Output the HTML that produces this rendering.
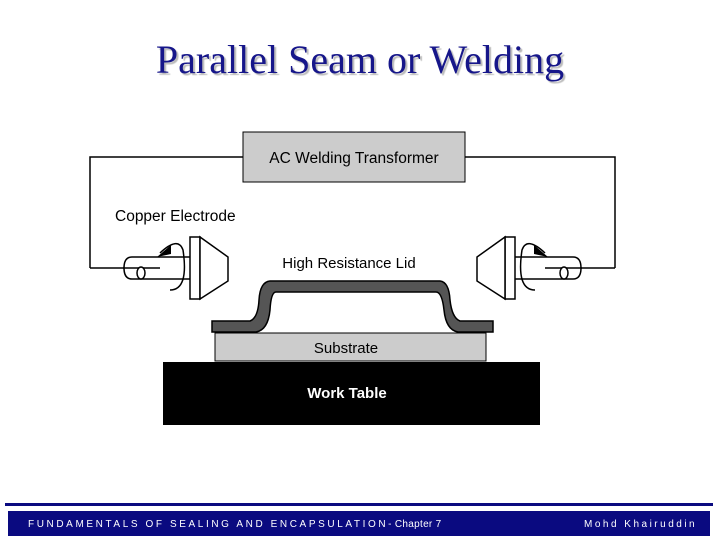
<!DOCTYPE html>
<html><head><style>
body{margin:0;width:720px;height:540px;background:#fff;overflow:hidden;position:relative;font-family:"Liberation Sans",sans-serif}
.t{position:absolute;top:36px;left:0;width:720px;text-align:center;font-family:"Liberation Serif",serif;font-size:40px;color:#16168a;text-shadow:2px 2px 1px #bbb}
</style></head><body>
<div class="t">Parallel Seam or Welding</div>
<svg width="720" height="540" style="position:absolute;left:0;top:0">
<defs>
<g id="el">
<path d="M123,268 H190" stroke="#000" stroke-width="1.5" fill="none"/>
<path d="M190,257 H132 Q124,257 124,268 Q124,279 132,279 H190" fill="#fff" stroke="#000" stroke-width="1.5"/>
<path d="M90,268 H160" stroke="#000" stroke-width="1.5"/>
<ellipse cx="141" cy="273" rx="4" ry="6" fill="#fff" stroke="#000" stroke-width="1.5"/>
<path d="M160,253 Q178,236 183,250 Q189,290 170,290" fill="none" stroke="#000" stroke-width="1.5"/>
<path d="M157,257 L171,245 L171,254 Z" fill="#000"/>
<rect x="190" y="237" width="10" height="62" fill="#fff" stroke="#000" stroke-width="1.5"/>
<path d="M200,237 L228,257 L228,281 L200,299 Z" fill="#fff" stroke="#000" stroke-width="1.5"/>
</g>
</defs>
<path d="M243,157 H90 V268 M465,157 H615 V268" fill="none" stroke="#000" stroke-width="1.5"/>
<rect x="243" y="132" width="222" height="50" fill="#ccc" stroke="#000" stroke-width="1"/>
<text x="354" y="163" font-size="15.5" text-anchor="middle" font-family="Liberation Sans">AC Welding Transformer</text>
<text x="115" y="221" font-size="15.5" font-family="Liberation Sans">Copper Electrode</text>
<text x="349" y="268" font-size="15" text-anchor="middle" font-family="Liberation Sans">High Resistance Lid</text>
<use href="#el"/>
<use href="#el" transform="translate(705,0) scale(-1,1)"/>
<path d="M212,321 H250 Q258,318 259,300 Q260,282 270,281 H440 Q449,282 450,300 Q452,318 460,321 H493 V332 H458 Q446,330 444,310 Q442,292 436,292 H276 Q271,292 270,310 Q268,330 256,332 H212 Z" fill="#555" stroke="#000" stroke-width="1.5"/>
<rect x="215" y="333" width="271" height="28" fill="#ccc" stroke="#000" stroke-width="1"/>
<text x="346" y="353" font-size="15" text-anchor="middle" font-family="Liberation Sans">Substrate</text>
<rect x="163" y="362" width="377" height="63" fill="#000"/>
<text x="347" y="398" font-size="15" font-weight="bold" fill="#fff" text-anchor="middle" font-family="Liberation Sans">Work Table</text>
<rect x="5" y="503" width="708" height="3" fill="#0a0a80"/>
<rect x="8" y="511" width="702" height="25" fill="#0a0a80"/>
<text x="28" y="527" font-size="10" fill="#fff" letter-spacing="2.6" font-family="Liberation Sans">FUNDAMENTALS OF SEALING AND ENCAPSULATION<tspan letter-spacing="0.3">- Chapter 7</tspan></text>
<text x="584" y="527" font-size="10" fill="#fff" letter-spacing="2.5" font-family="Liberation Sans">Mohd Khairuddin</text>
</svg>
</body></html>
